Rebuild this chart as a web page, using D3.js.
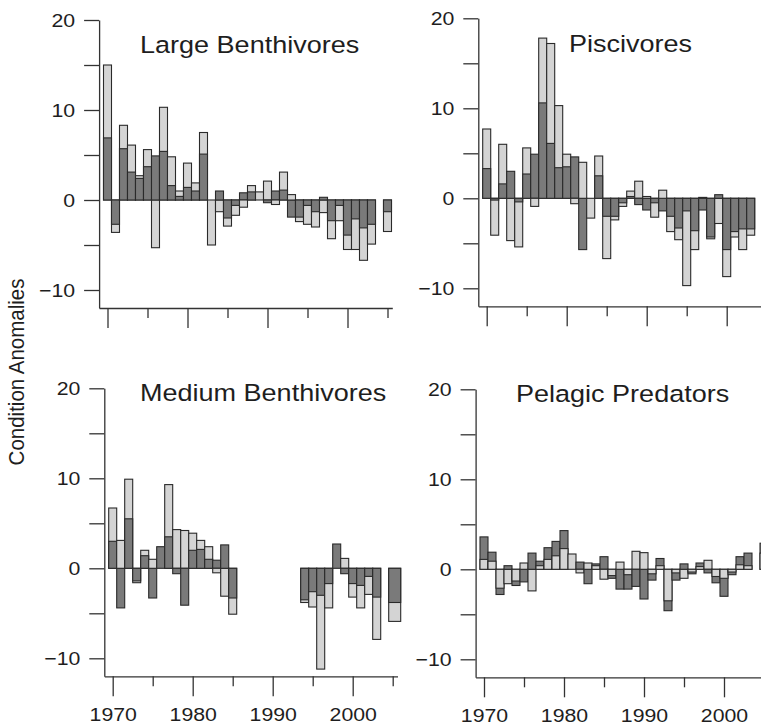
<!DOCTYPE html>
<html><head><meta charset="utf-8">
<script src="https://cdn.jsdelivr.net/npm/d3@7"></script>
<style>
body{margin:0;background:#fff}
svg{display:block}
text{font-family:"Liberation Sans",Arial,Helvetica,sans-serif;fill:#1e1e1e}
</style>
</head><body><svg id="chart" width="761" height="726"></svg>
<script>
// ---------------- DATA ----------------
const years = [1970,1971,1972,1973,1974,1975,1976,1977,1978,1979,1980,1981,1982,1983,1984,1985,1986,1987,1988,1989,
               1990,1991,1992,1993,1994,1995,1996,1997,1998,1999,2000,2001,2002,2003,2004,2005];

const largeBenthDark  = [6.9,-2.7,5.7,3.1,2.4,3.7,4.9,5.4,1.6,0.4,1.4,1.0,5.1,0.0,1.0,-2.0,-0.6,0.8,0.9,0.0,
                         -0.3,1.0,1.1,-1.9,-1.9,-0.6,-1.3,0.3,-2.3,-0.6,-3.9,-2.1,-3.1,-2.7,null,-1.3];
const largeBenthLight = [15.0,-3.6,8.3,6.1,2.7,5.6,-5.3,10.3,4.8,1.0,4.1,1.9,7.5,-5.0,-1.3,-2.9,-1.7,-0.8,1.6,0.9,
                         2.1,-0.5,3.1,0.6,-2.4,-2.7,-3.0,-1.4,-4.3,-2.3,-5.5,-5.5,-6.7,-4.9,null,-3.5];

const piscDark  = [3.3,-0.2,1.6,3.0,-0.4,2.7,4.9,10.6,6.1,3.4,3.5,4.6,-5.7,0.0,2.5,-2.0,-2.0,-0.5,0.2,-0.7,
                   -1.3,-0.5,-1.4,-2.0,-3.3,-1.4,-3.6,-1.3,-4.3,0.4,-5.7,-3.7,-3.4,-3.4,null,null];
const piscLight = [7.7,-4.1,6.0,-4.7,-5.4,5.6,-0.9,17.8,17.2,10.3,4.9,-0.6,4.0,-2.2,4.7,-6.7,-2.4,-0.9,0.8,1.9,
                   0.2,-2.1,0.9,-3.7,-4.6,-9.7,-5.7,0.1,-4.5,-2.8,-8.7,-4.3,-5.7,-4.1,null,null];

const medBenthDark  = [3.0,-4.4,5.5,-1.4,1.4,-3.3,2.4,3.5,-0.6,-4.1,2.0,2.1,1.0,0.9,2.6,-3.3,null,null,null,null,
                       null,null,null,null,-3.5,-2.6,-3.0,-1.7,2.7,-0.6,-1.7,-1.9,-0.9,-3.2,null,-3.8];
const medBenthLight = [6.7,3.1,9.9,-1.6,2.0,1.0,0.0,9.3,4.3,4.2,3.9,3.1,2.4,-0.5,-3.1,-5.1,null,null,null,null,
                       null,null,null,null,-3.8,-4.3,-11.2,-4.4,0.0,1.1,-3.2,-4.4,-2.9,-7.9,null,-5.9];

const pelagicDark  = [3.6,1.9,-2.8,0.4,-1.8,-1.4,1.8,0.9,2.4,3.1,4.3,0.0,0.8,-1.6,0.6,1.4,-1.0,-2.2,-2.2,-1.9,
                      -3.3,-1.2,1.2,-4.6,-1.2,0.6,-0.5,0.7,-0.4,-1.5,-3.0,-0.6,1.4,1.8,null,2.9];
const pelagicLight = [1.1,0.9,-2.1,-1.6,-1.3,0.7,-2.4,0.4,1.1,1.5,2.3,1.7,-0.4,0.7,0.4,-1.1,-0.7,0.8,-0.6,2.0,
                      1.85,-0.5,0.4,-3.5,-0.4,-1.0,-0.3,0.3,1.0,-0.8,-1.0,-0.3,0.5,0.4,null,1.8];

const panelTitles = ["Large Benthivores","Piscivores","Medium Benthivores","Pelagic Predators"];
const yTickValues = [-10,-5,0,5,10,15,20];
const yLabelValues = [-10,0,10,20];
const xMinorTicks = [1975,1985,1995,2005];
const xMajorTicks = [1970,1980,1990,2000];
const xTickLabels = ["1970","1980","1990","2000"];
const axisTitle = "Condition Anomalies";

// ---------------- LAYOUT ----------------
const DARK = "#7a7a7a", LIGHT = "#d4d4d4", EDGE = "#2a2a2a", AXIS = "#333";
const SX = 1.15; // horizontal text stretch of the original figure
const layout = [
  {x1970:107.5, y0:200.0, tx:140, ty:53,  labels:false, lastW:1},
  {x1970:486.7, y0:198.3, tx:569, ty:52,  labels:false, lastW:1},
  {x1970:112.7, y0:568.3, tx:140, ty:401, labels:true,  lastW:1.5},
  {x1970:484.0, y0:569.3, tx:516, ty:401.5, labels:true, lastW:1}
];
const series = [
  [largeBenthDark, largeBenthLight],
  [piscDark, piscLight],
  [medBenthDark, medBenthLight],
  [pelagicDark, pelagicLight]
];

const svg = d3.select("#chart");
svg.append("rect").attr("width",761).attr("height",726).attr("fill","#fff");

layout.forEach((L, p) => {
  const pxYear = 8, pxUnit = 9;
  const xs = d3.scaleLinear()
    .domain([1968.95, 2005.6])
    .range([L.x1970 - 1.05*pxYear, L.x1970 + 35.6*pxYear]);
  const ys = d3.scaleLinear()
    .domain([-12, 20])
    .range([L.y0 + 12*pxUnit, L.y0 - 20*pxUnit]);

  const g = svg.append("g");
  const [dark, light] = series[p];
  const lastYear = years[years.length - 1];

  // bars: both series drawn from zero, larger magnitude behind
  const bars = [];
  years.forEach((yr, i) => {
    const items = [];
    if (dark[i] !== null) items.push({yr, v: dark[i], c: DARK});
    if (light[i] !== null) items.push({yr, v: light[i], c: LIGHT});
    items.sort((a,b) => Math.abs(b.v) - Math.abs(a.v));
    items.forEach(d => bars.push(d));
  });
  g.selectAll("rect.bar").data(bars).join("rect")
    .attr("class","bar")
    .attr("x", d => xs(d.yr - 0.5))
    .attr("width", d => xs(d.yr - 0.5 + (d.yr === lastYear ? L.lastW : 1)) - xs(d.yr - 0.5))
    .attr("y", d => ys(Math.max(0, d.v)))
    .attr("height", d => Math.abs(ys(d.v) - ys(0)))
    .attr("fill", d => d.c)
    .attr("stroke", EDGE)
    .attr("stroke-width", 1.1);

  // y axis
  const yAxis = d3.axisLeft(ys)
    .tickValues(yTickValues)
    .tickSize(15).tickSizeOuter(0).tickPadding(9)
    .tickFormat(v => yLabelValues.includes(v) ? (v < 0 ? "\u2212" + Math.abs(v) : String(v)) : "");
  const ya = g.append("g").attr("transform", `translate(${xs(1968.95)},0)`).call(yAxis);
  ya.select(".domain").attr("stroke", AXIS).attr("stroke-width", 1.3);
  ya.selectAll(".tick line").attr("stroke", AXIS).attr("stroke-width", 1.3);
  ya.selectAll(".tick text")
    .attr("font-size", 18.5).attr("font-family", null).attr("fill", "#1e1e1e")
    .attr("dy", "0.36em");
  ya.selectAll(".tick text").each(function(){
    const t = d3.select(this);
    const x = +t.attr("x");
    t.attr("transform", `translate(${x},0) scale(${SX},1) translate(${-x},0)`);
  });

  // x axis (minor ticks)
  const xaMinor = g.append("g").attr("transform", `translate(0,${ys(-12)})`)
    .call(d3.axisBottom(xs).tickValues(xMinorTicks).tickSize(10).tickSizeOuter(0).tickFormat(""));
  xaMinor.select(".domain").attr("stroke", AXIS).attr("stroke-width", 1.3);
  xaMinor.selectAll(".tick line").attr("stroke", AXIS).attr("stroke-width", 1.3);

  // x axis (major ticks + labels)
  const xaMajor = g.append("g").attr("transform", `translate(0,${ys(-12)})`)
    .call(d3.axisBottom(xs).tickValues(xMajorTicks).tickSize(20).tickSizeOuter(0).tickPadding(12)
      .tickFormat((v,i) => L.labels ? xTickLabels[i] : ""));
  xaMajor.select(".domain").remove();
  xaMajor.selectAll(".tick line").attr("stroke", AXIS).attr("stroke-width", 1.3);
  xaMajor.selectAll(".tick text")
    .attr("font-size", 18.5).attr("font-family", null).attr("fill", "#1e1e1e")
    .attr("dy", "0.71em")
    .attr("transform", `scale(${SX},1)`);

  // title
  g.append("text")
    .attr("x", 0).attr("y", 0)
    .attr("font-size", 23.5)
    .attr("transform", `translate(${L.tx},${L.ty}) scale(${SX},1)`)
    .text(panelTitles[p]);
});

// y-axis title
svg.append("text")
  .attr("text-anchor", "middle")
  .attr("font-size", 20.5)
  .attr("transform", "translate(24,372) rotate(-90) scale(1,1.12)")
  .text(axisTitle);
</script>
</body></html>
